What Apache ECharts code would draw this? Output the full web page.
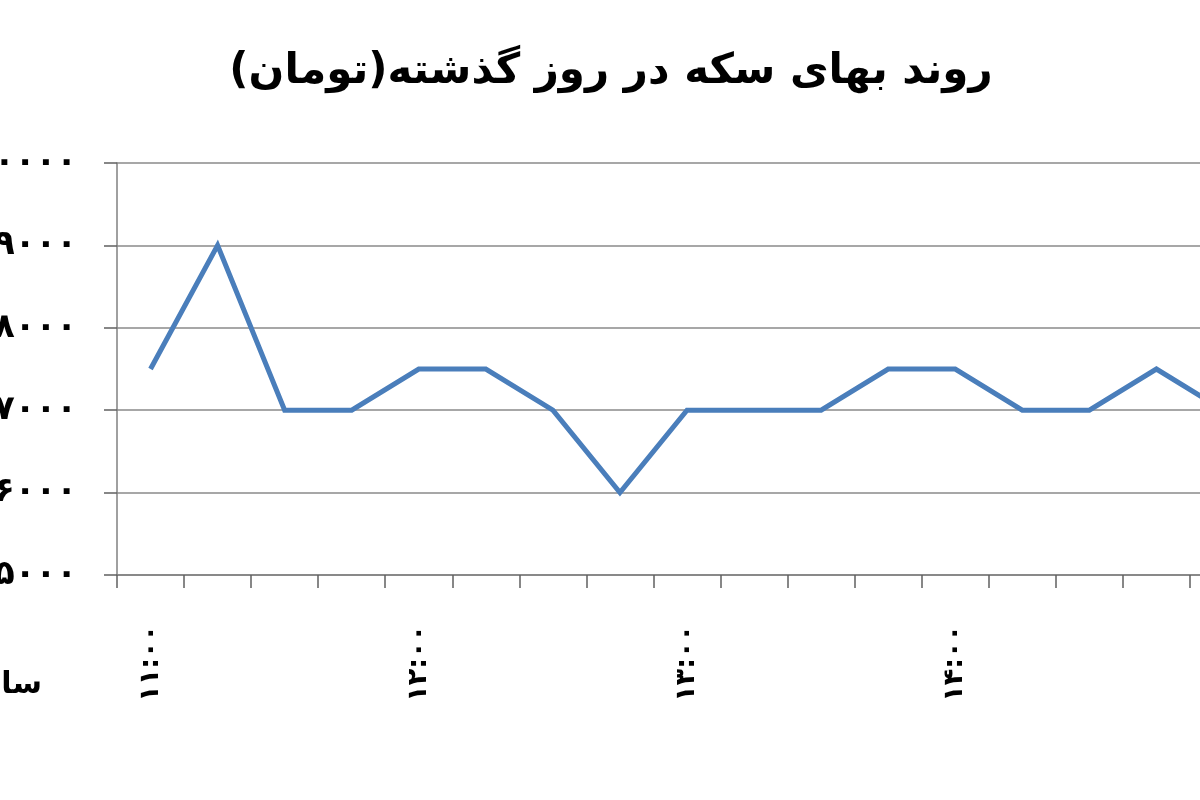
<!DOCTYPE html>
<html>
<head>
<meta charset="utf-8">
<script src="https://cdn.jsdelivr.net/npm/echarts@6/dist/echarts.min.js"></script>
<style>
html,body{margin:0;padding:0;background:#fff;}
#chart{width:1200px;height:800px;}
</style>
</head>
<body>
<div id="chart"></div>
<script>
const titleText = 'روند بهای سکه در روز گذشته(تومان)';
const axisName = 'ساعت';
const categories = ['۱۱:۰۰','۱۱:۱۵','۱۱:۳۰','۱۱:۴۵','۱۲:۰۰','۱۲:۱۵','۱۲:۳۰','۱۲:۴۵','۱۳:۰۰','۱۳:۱۵','۱۳:۳۰','۱۳:۴۵','۱۴:۰۰','۱۴:۱۵','۱۴:۳۰','۱۴:۴۵','۱۵:۰۰'];
const prices = [7500, 9000, 7000, 7000, 7500, 7500, 7000, 6000, 7000, 7000, 7000, 7500, 7500, 7000, 7000, 7500, 7000];
const yMin = 5000, yMax = 10000, yStep = 1000;

const faDigits = '۰۱۲۳۴۵۶۷۸۹';
function toFa(n){ return String(n).replace(/\d/g, d => faDigits[d]); }

const chart = echarts.init(document.getElementById('chart'), null, {renderer:'canvas'});
const FONT = '"DejaVu Sans", sans-serif';
chart.setOption({
  backgroundColor: '#ffffff',
  animation: false,
  title: {
    text: titleText,
    left: 606, top: 46, textAlign: 'center',
    textStyle: {fontFamily: FONT, fontWeight: 'bold', fontSize: 42, color: '#000'}
  },
  graphic: [{
    type: 'text', right: 1158, top: 670,
    style: {text: axisName, font: 'bold 30px "DejaVu Sans", sans-serif', fill: '#000', textAlign: 'right'}
  }],
  grid: {left: 117, top: 163, bottom: 225, right: -57, containLabel: false, outerBoundsMode: 'none'},
  xAxis: {
    type: 'category',
    data: categories,
    boundaryGap: true,
    axisLine: {lineStyle: {color: '#808080', width: 1.5}},
    axisTick: {show: true, interval: 0, length: 13, lineStyle: {color: '#606060', width: 1.5}},
    axisLabel: {interval: 3, rotate: 90, margin: 50, fontFamily: FONT, fontWeight: 'bold', fontSize: 27, color: '#000'}
  },
  yAxis: {
    type: 'value',
    min: yMin, max: yMax, interval: yStep,
    axisLine: {show: true, lineStyle: {color: '#808080', width: 1.5}},
    axisTick: {show: true, length: 13, lineStyle: {color: '#606060', width: 1.5}},
    splitLine: {lineStyle: {color: '#8a8a8a', width: 1.5}},
    axisLabel: {margin: 40, fontFamily: FONT, fontWeight: 'bold', fontSize: 34, color: '#000', formatter: v => toFa(v)}
  },
  series: [{
    type: 'line',
    data: prices,
    symbol: 'none',
    lineStyle: {color: '#4a7ebb', width: 5, join: 'miter'},
    itemStyle: {color: '#4a7ebb'}
  }]
});
</script>
</body>
</html>
